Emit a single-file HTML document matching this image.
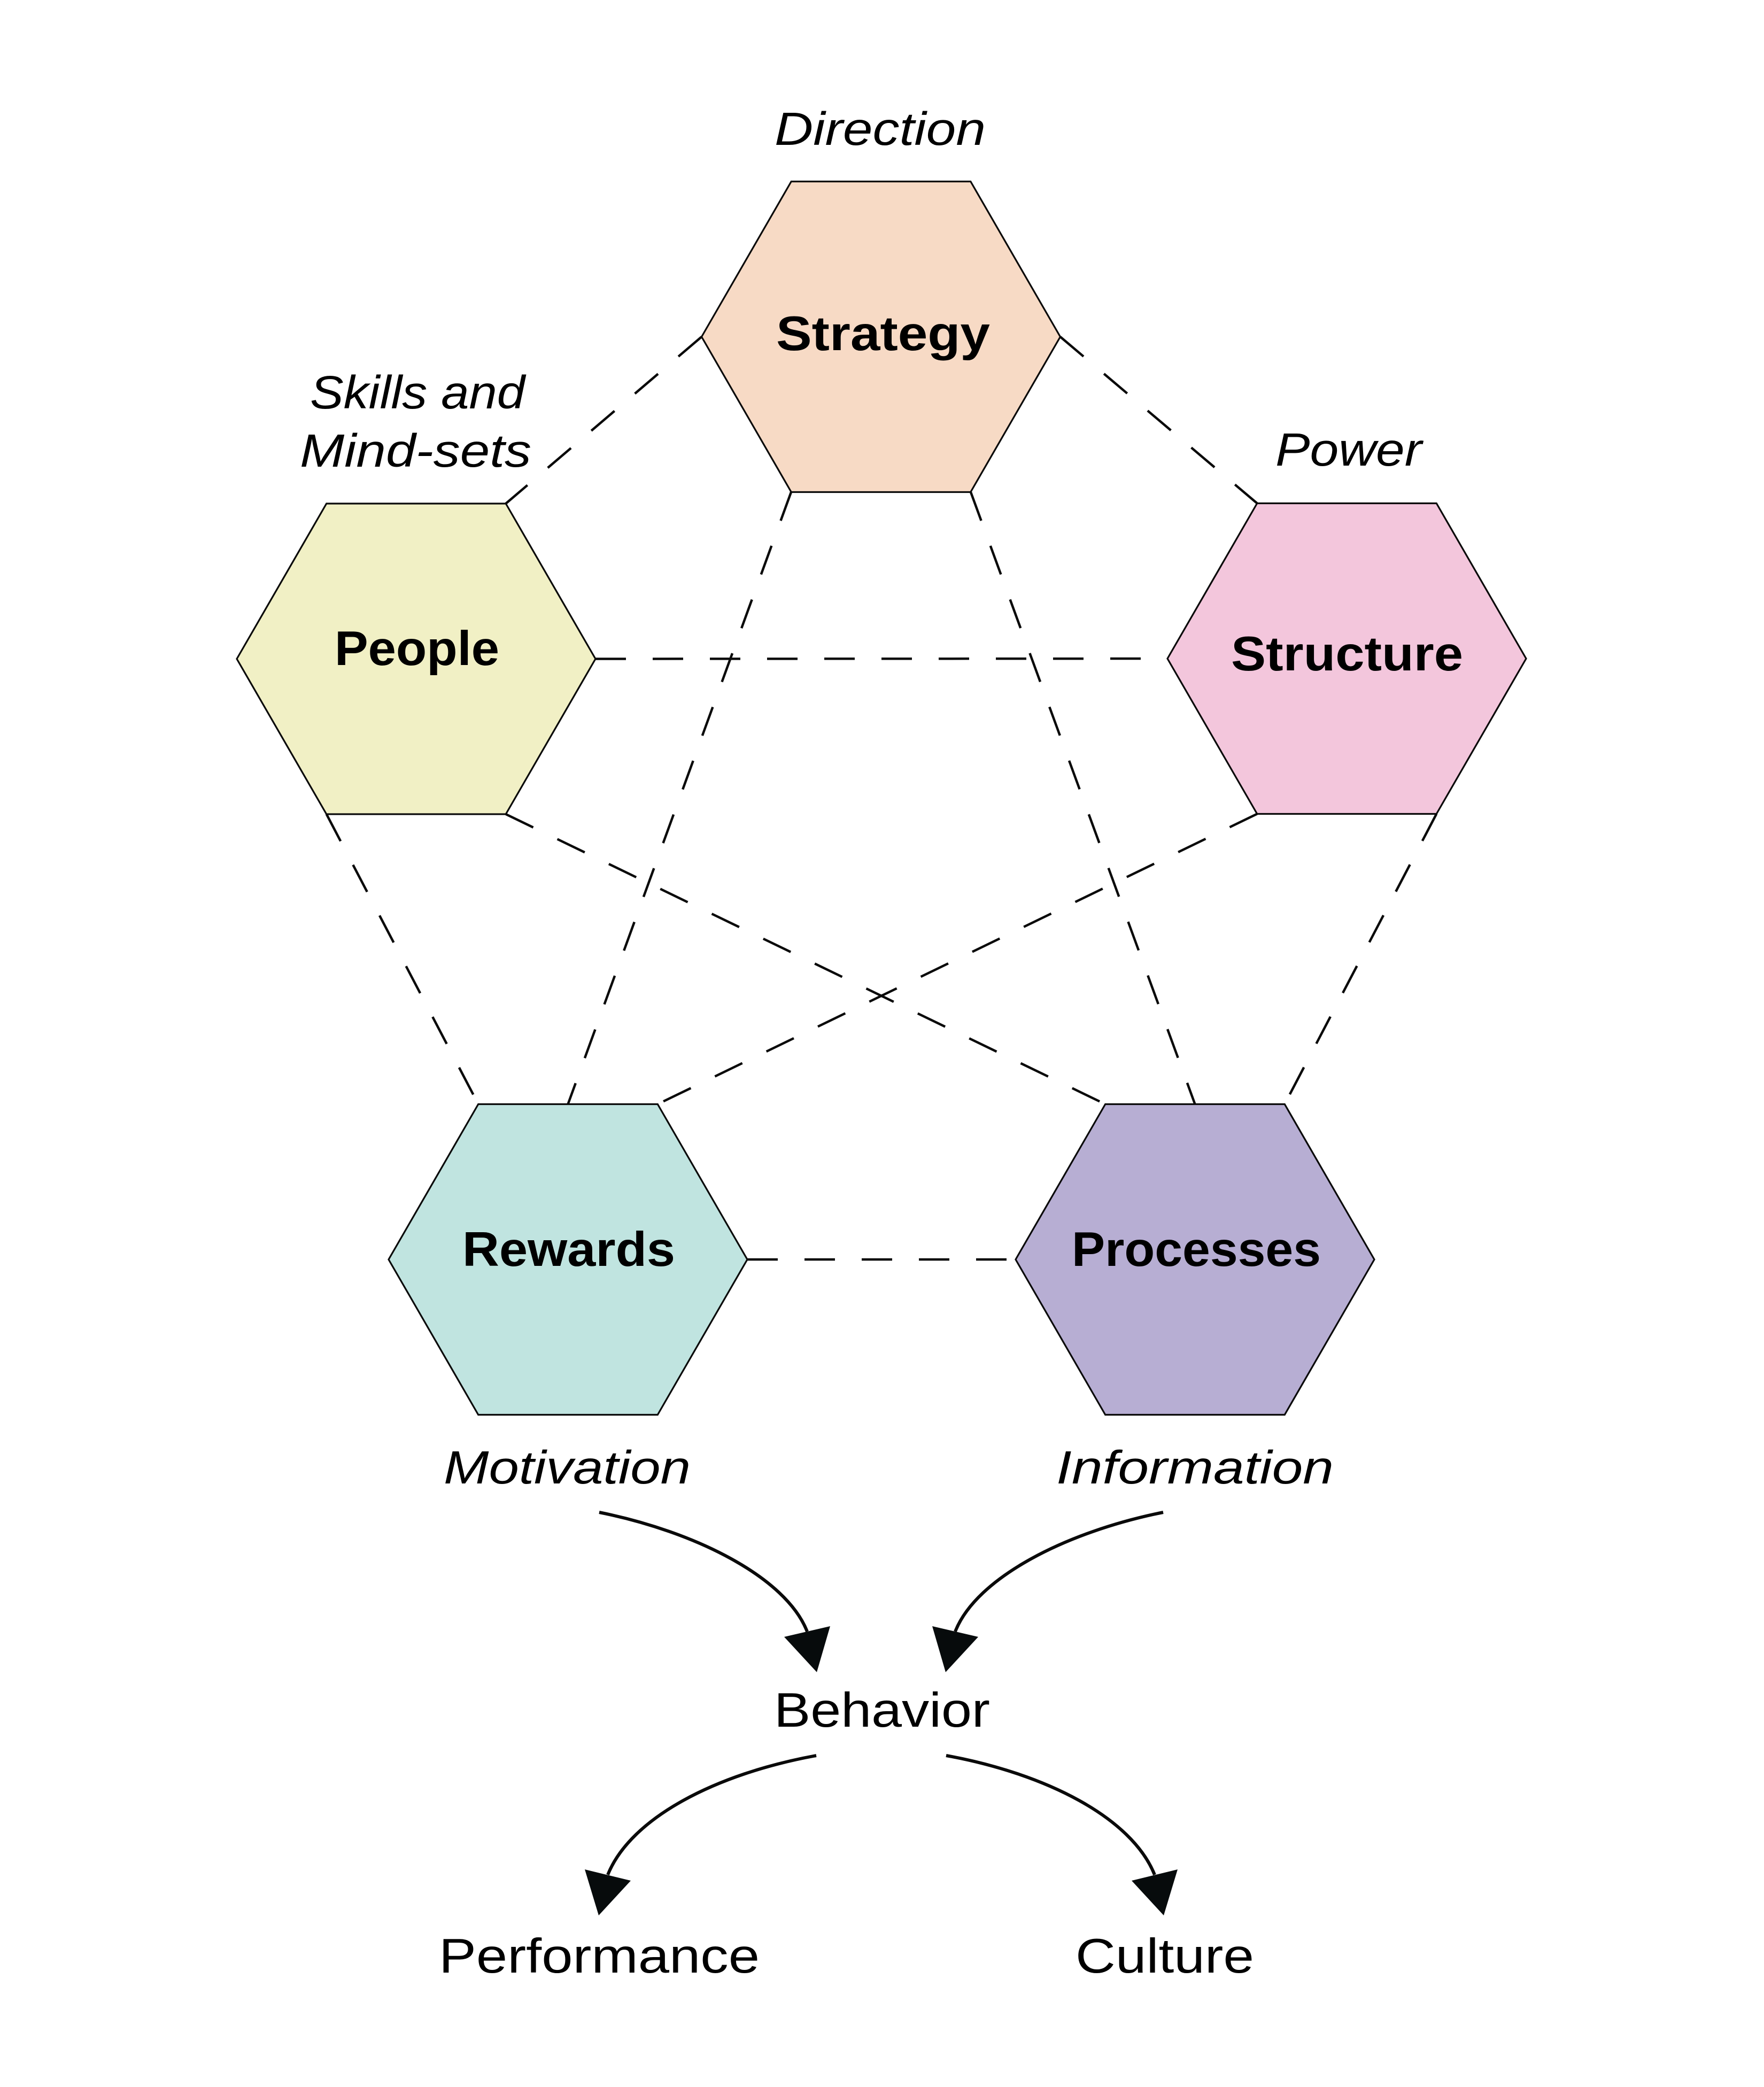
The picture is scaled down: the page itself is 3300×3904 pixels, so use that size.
<!DOCTYPE html>
<html>
<head>
<meta charset="utf-8">
<style>
  html, body { margin: 0; padding: 0; background: #ffffff; }
  body { width: 3300px; height: 3904px; overflow: hidden; }
  svg { display: block; }
  .lbl { font-family: "Liberation Sans", sans-serif; fill: #000; }
  .b { font-weight: bold; font-size: 91px; }
  .i { font-style: italic; font-size: 87px; }
  .r { font-size: 91px; }
</style>
</head>
<body>
<svg width="3300" height="3904" viewBox="0 0 3300 3904" xmlns="http://www.w3.org/2000/svg">
  <rect x="0" y="0" width="3300" height="3904" fill="#ffffff"/>

  <!-- dashed connectors -->
  <g stroke="#0a0a0a" stroke-width="4.5" stroke-dasharray="57 50" fill="none" stroke-linecap="butt">
    <line x1="1312.5" y1="630" x2="946.25" y2="942"/>
    <line x1="1983.5" y1="630" x2="2351.75" y2="941.5"/>
    <line x1="1480" y1="920.5" x2="1062.5" y2="2065.5"/>
    <line x1="1816" y1="920.5" x2="2235.5" y2="2065.5"/>
    <line x1="1114" y1="1232.5" x2="2184" y2="1232"/>
    <line x1="610.75" y1="1523" x2="894.75" y2="2065.5"/>
    <line x1="946.25" y1="1523" x2="2067.75" y2="2065.5"/>
    <line x1="2351.75" y1="1522.5" x2="1230.25" y2="2065.5"/>
    <line x1="2687.25" y1="1522.5" x2="2403.25" y2="2065.5"/>
    <line x1="1398" y1="2356" x2="1899" y2="2356"/>
  </g>

  <!-- hexagons -->
  <g stroke="#0a0a0a" stroke-width="3.2" stroke-linejoin="miter">
    <!-- Strategy center (1648,630) -->
    <polygon fill="#F7DAC5" points="1312.5,630 1480.25,339.5 1815.75,339.5 1983.5,630 1815.75,920.5 1480.25,920.5"/>
    <!-- People center (778.5,1232.5) -->
    <polygon fill="#F1F0C5" points="443,1232.5 610.75,942 946.25,942 1114,1232.5 946.25,1523 610.75,1523"/>
    <!-- Structure center (2519.5,1232) -->
    <polygon fill="#F3C6DC" points="2184,1232 2351.75,941.5 2687.25,941.5 2855,1232 2687.25,1522.5 2351.75,1522.5"/>
    <!-- Rewards center (1062.5,2356) -->
    <polygon fill="#C0E4E0" points="727,2356 894.75,2065.5 1230.25,2065.5 1398,2356 1230.25,2646.5 894.75,2646.5"/>
    <!-- Processes center (2235.5,2356) -->
    <polygon fill="#B7AED3" points="1900,2356 2067.75,2065.5 2403.25,2065.5 2571,2356 2403.25,2646.5 2067.75,2646.5"/>
  </g>

  <!-- hexagon labels -->
  <text class="lbl b" x="1452" y="655" textLength="400" lengthAdjust="spacingAndGlyphs">Strategy</text>
  <text class="lbl b" x="626" y="1244" textLength="308" lengthAdjust="spacingAndGlyphs">People</text>
  <text class="lbl b" x="2303" y="1254" textLength="434" lengthAdjust="spacingAndGlyphs">Structure</text>
  <text class="lbl b" x="865" y="2368" textLength="398" lengthAdjust="spacingAndGlyphs">Rewards</text>
  <text class="lbl b" x="2005" y="2368" textLength="466" lengthAdjust="spacingAndGlyphs">Processes</text>

  <!-- italic descriptors -->
  <text class="lbl i" x="1449" y="271" textLength="395" lengthAdjust="spacingAndGlyphs">Direction</text>
  <text class="lbl i" x="580" y="764" textLength="402" lengthAdjust="spacingAndGlyphs">Skills and</text>
  <text class="lbl i" x="561" y="873" textLength="433" lengthAdjust="spacingAndGlyphs">Mind-sets</text>
  <text class="lbl i" x="2386" y="871" textLength="274" lengthAdjust="spacingAndGlyphs">Power</text>
  <text class="lbl i" x="830" y="2775" textLength="462" lengthAdjust="spacingAndGlyphs">Motivation</text>
  <text class="lbl i" x="1976" y="2775" textLength="519" lengthAdjust="spacingAndGlyphs">Information</text>

  <!-- bottom labels -->
  <text class="lbl r" x="1448" y="3230" textLength="404" lengthAdjust="spacingAndGlyphs">Behavior</text>
  <text class="lbl r" x="821" y="3690" textLength="600" lengthAdjust="spacingAndGlyphs">Performance</text>
  <text class="lbl r" x="2012" y="3690" textLength="334" lengthAdjust="spacingAndGlyphs">Culture</text>

  <!-- curved arrows -->
  <g stroke="#0a0a0a" stroke-width="6" fill="none" stroke-linecap="butt">
    <path d="M1121,2829 C1300,2865 1470,2950 1510,3052"/>
    <path d="M2176,2829 C1997,2865 1827,2950 1787,3052"/>
    <path d="M1527,3284 C1340,3318 1180,3400 1137,3507"/>
    <path d="M1770,3284 C1957,3318 2117,3400 2160,3507"/>
  </g>
  <g fill="#070b0c" stroke="none">
    <polygon points="1467,3062 1553,3042 1528,3128"/>
    <polygon points="1830,3062 1744,3042 1769,3128"/>
    <polygon points="1094,3497 1180,3518 1120,3583"/>
    <polygon points="2203,3497 2117,3518 2177,3583"/>
  </g>
</svg>
</body>
</html>
